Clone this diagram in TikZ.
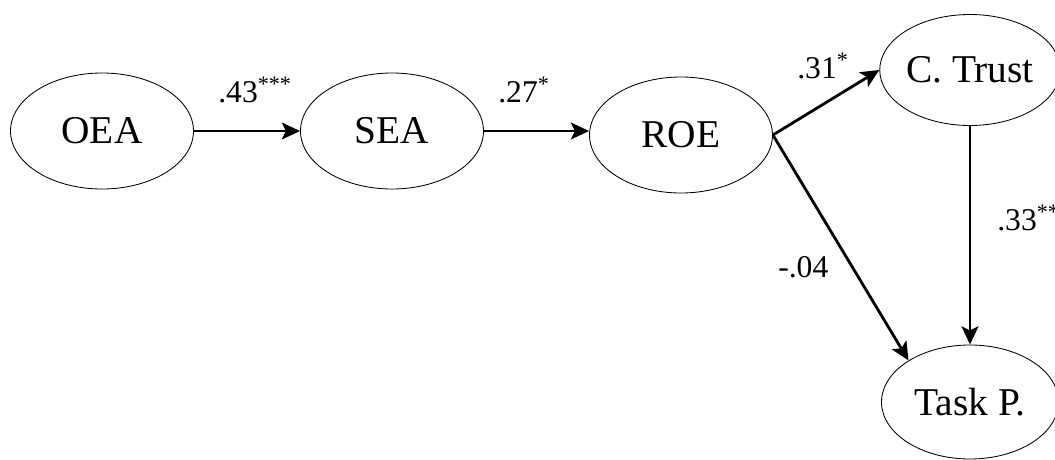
\documentclass[tikz,border=0pt]{standalone}
\usepackage{fontspec}
\setmainfont{Liberation Serif}
\usetikzlibrary{shapes.geometric,arrows.meta}
\begin{document}
\begin{tikzpicture}[x=0.025cm,y=-0.025cm,
  var/.style={draw, ellipse, line width=0.6pt, inner sep=0pt, font=\fontsize{28}{30}\selectfont},
  path/.style={line width=2pt, -{Stealth[length=13pt,width=12pt,inset=3pt]}},
  coef/.style={font=\fontsize{22.5}{24}\selectfont, inner sep=0pt}]
\useasboundingbox (0,0) rectangle (1055,460);
\node[var, minimum width=183*0.025cm, minimum height=116*0.025cm] (oea) at (102,131) {OEA};
\node[var, minimum width=183*0.025cm, minimum height=116*0.025cm] (sea) at (392,131) {SEA};
\node[var, minimum width=183*0.025cm, minimum height=116*0.025cm] (roe) at (681,135) {ROE};
\node[var, minimum width=177*0.025cm, minimum height=111*0.025cm] (ct) at (970,70) {C. Trust};
\node[var, minimum width=177*0.025cm, minimum height=114*0.025cm] (tp) at (970,402) {Task P.};
\draw[path] (oea.east) -- (sea.west);
\draw[path] (sea.east) -- (sea.east -| roe.west);
\draw[path] (roe.east) -- (ct.west);
\draw[path] (roe.east) -- (tp.146);
\draw[path] (ct.south) -- (tp.north);
\node[coef, anchor=base west] (l1) at (218,102) {.43\textsuperscript{***}};
\node[coef, anchor=base west] (l2) at (498,102) {.27\textsuperscript{*}};
\node[coef, anchor=base west] (l3) at (797,78) {.31\textsuperscript{*}};
\node[coef, anchor=base west] (l4) at (997,230) {.33\textsuperscript{**}};
\node[coef, anchor=base west] (l5) at (778,277) {-.04};
\end{tikzpicture}
\end{document}
